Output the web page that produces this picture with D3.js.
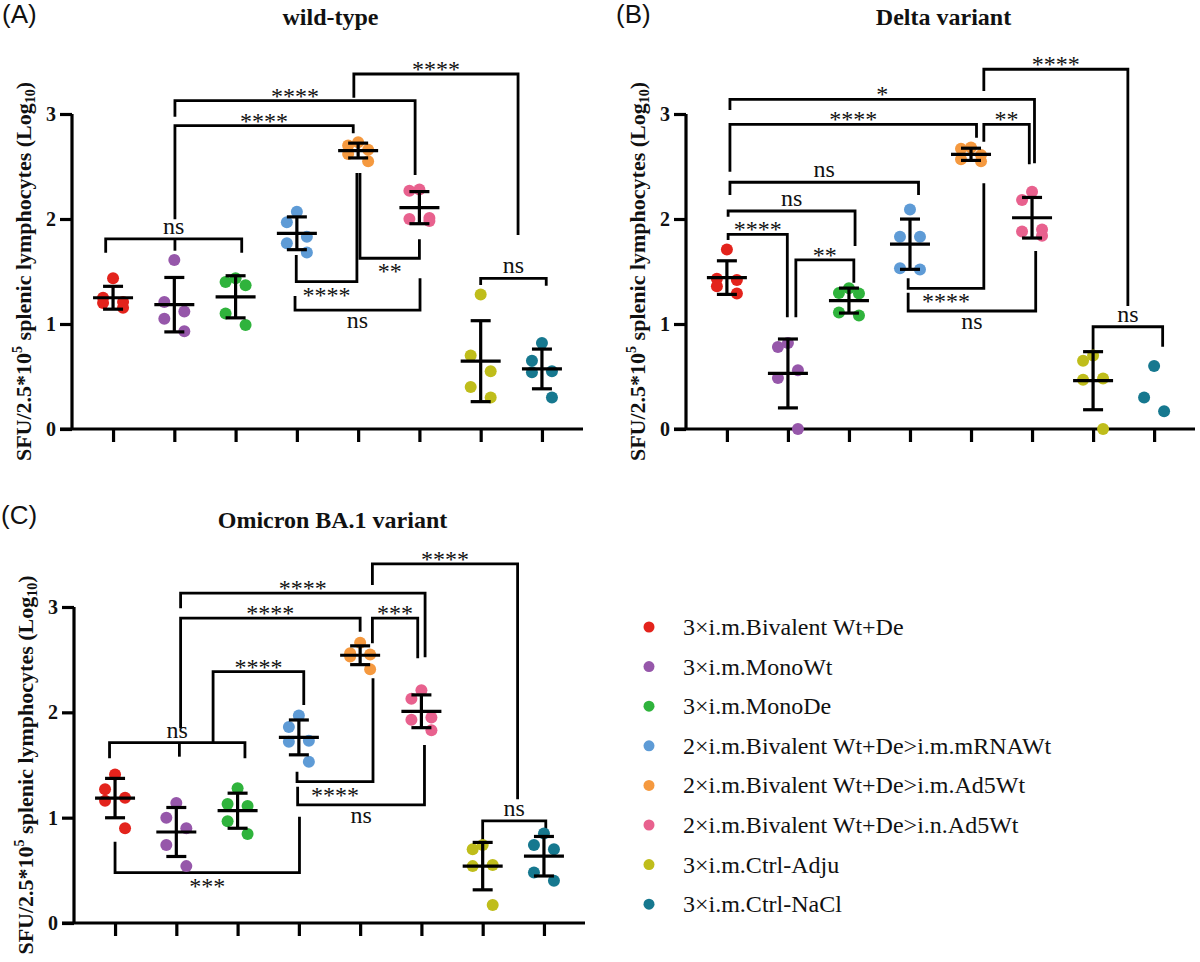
<!DOCTYPE html>
<html>
<head>
<meta charset="utf-8">
<script src="https://cdn.jsdelivr.net/npm/d3@7"></script>
<style>
  body { margin: 0; background: #fff; }
</style>
</head>
<body>
<div id="chart"></div>
<script>
// groups (legend order = x order)
const groups = [
  "3×i.m.Bivalent Wt+De",
  "3×i.m.MonoWt",
  "3×i.m.MonoDe",
  "2×i.m.Bivalent Wt+De>i.m.mRNAWt",
  "2×i.m.Bivalent Wt+De>i.m.Ad5Wt",
  "2×i.m.Bivalent Wt+De>i.n.Ad5Wt",
  "3×i.m.Ctrl-Adju",
  "3×i.m.Ctrl-NaCl"
];
const groupColors = ["#e3231c", "#9657aa", "#2fb33c", "#5e9bd6", "#f5993f", "#e8618e", "#bfbd1b", "#16788f"];

// log10 SFU per mouse
const wildType = [
  [1.435, 1.25, 1.21, 1.20, 1.155],
  [1.61, 1.21, 1.12, 1.05, 0.93],
  [1.435, 1.40, 1.37, 1.10, 0.99],
  [2.07, 1.97, 1.83, 1.77, 1.68],
  [2.73, 2.70, 2.66, 2.62, 2.55],
  [2.28, 2.27, 2.01, 2.00, 1.98],
  [1.28, 0.70, 0.55, 0.40, 0.30],
  [0.82, 0.65, 0.55, 0.54, 0.30]
];
const deltaVariant = [
  [1.71, 1.43, 1.42, 1.36, 1.29],
  [0.82, 0.78, 0.56, 0.485, 0.0],
  [1.34, 1.295, 1.29, 1.11, 1.08],
  [2.09, 1.83, 1.83, 1.53, 1.52],
  [2.68, 2.67, 2.61, 2.57, 2.55],
  [2.26, 2.18, 1.90, 1.88, 1.84],
  [0.70, 0.65, 0.48, 0.47, 0.0],
  [0.60, 0.30, 0.17]
];
const omicronVariant = [
  [1.41, 1.27, 1.19, 1.16, 0.90],
  [1.14, 1.00, 0.90, 0.74, 0.54],
  [1.28, 1.13, 1.11, 0.965, 0.845],
  [1.97, 1.86, 1.73, 1.72, 1.53],
  [2.66, 2.56, 2.55, 2.53, 2.41],
  [2.21, 2.13, 1.95, 1.93, 1.83],
  [0.74, 0.70, 0.55, 0.54, 0.17],
  [0.85, 0.74, 0.70, 0.48, 0.40]
];

const yTicks = [0, 1, 2, 3];

// significance brackets: [from group, to group, level, left end, right end, label, label side, stem group, stem end]
const wildTypeBrackets = [
  [3.93, 6.61, 3.381, 3.155, 1.848, "****", "above"],
  [1.01, 4.93, 3.127, 2.974, 2.419, "****", "above"],
  [1.01, 3.92, 2.889, 1.997, 2.816, "****", "above"],
  [-0.12, 2.10, 1.810, 1.679, 1.679, "ns", "above", 1.01, 1.698],
  [2.99, 3.98, 1.403, 1.657, 2.438, "****", "below"],
  [4.03, 5.00, 1.626, 2.438, 1.807, "**", "below"],
  [2.97, 5.01, 1.133, 1.267, 1.435, "ns", "below"],
  [6.00, 7.07, 1.435, 1.371, 1.365, "ns", "above"]
];
const deltaBrackets = [
  [4.21, 6.57, 3.426, 3.219, 1.171, "****", "above"],
  [0.05, 5.04, 3.140, 3.038, 2.530, "*", "above"],
  [0.05, 4.09, 2.902, 2.450, 2.774, "****", "above"],
  [4.21, 4.955, 2.902, 2.736, 2.521, "**", "above"],
  [0.05, 3.14, 2.350, 2.229, 2.229, "ns", "above"],
  [0.02, 2.10, 2.076, 2.022, 1.743, "ns", "above"],
  [0.02, 0.99, 1.854, 1.800, 1.064, "****", "above"],
  [1.13, 2.08, 1.610, 1.064, 1.393, "**", "above"],
  [2.97, 4.21, 1.340, 1.435, 2.340, "****", "below"],
  [2.97, 5.06, 1.124, 1.298, 1.695, "ns", "below"],
  [6.00, 7.14, 0.974, 0.736, 0.784, "ns", "above"]
];
const omicronBrackets = [
  [4.20, 6.57, 3.409, 3.210, 1.175, "****", "above"],
  [1.07, 5.06, 3.131, 2.989, 2.523, "****", "above"],
  [1.07, 4.00, 2.894, 1.849, 2.766, "****", "above"],
  [4.20, 4.94, 2.894, 2.656, 2.514, "***", "above"],
  [1.60, 3.08, 2.387, 1.712, 2.070, "****", "above"],
  [-0.09, 2.12, 1.712, 1.564, 1.564, "ns", "above", 1.05, 1.579],
  [2.97, 4.21, 1.342, 1.437, 2.324, "****", "below"],
  [2.98, 5.05, 1.121, 1.294, 1.690, "ns", "below"],
  [0.00, 3.01, 0.478, 0.772, 1.009, "***", "below"],
  [6.00, 7.03, 0.969, 0.757, 0.820, "ns", "above"]
];

const serif = "'Liberation Serif', 'Times New Roman', serif";
const sans = "'Liberation Sans', Arial, sans-serif";

const svg = d3.select("#chart").append("svg")
  .attr("width", 1200).attr("height", 962)
  .style("background", "#fff");

//panel layout
const panels = [
  {letter: "(A)", title: "wild-type", values: wildType, brackets: wildTypeBrackets,
   left: 72, right: 583, bottom: 429, top: 114, letterX: 2, letterY: 23, titleY: 25, noStats: []},
  {letter: "(B)", title: "Delta variant", values: deltaVariant, brackets: deltaBrackets,
   left: 686, right: 1195, bottom: 429, top: 114, letterX: 616, letterY: 23, titleY: 25, noStats: [7]},
  {letter: "(C)", title: "Omicron BA.1 variant", values: omicronVariant, brackets: omicronBrackets,
   left: 74, right: 585, bottom: 923, top: 607, letterX: 1, letterY: 524, titleY: 528, noStats: []}
];

const lw = 3.2;

panels.forEach(function(p){
  var g = svg.append("g");

  var x = d3.scalePoint().domain(d3.range(groups.length)).range([p.left, p.right]).padding(0.67);
  var xi = d3.scaleLinear().domain([0, groups.length - 1]).range([x(0), x(groups.length - 1)]);
  var y = d3.scaleLinear().domain([0, 3]).range([p.bottom, p.top]);

  // letter + title
  g.append("text").attr("x", p.letterX).attr("y", p.letterY)
    .attr("font-family", sans).attr("font-size", 26).attr("fill", "#111")
    .text(p.letter);
  g.append("text").attr("x", (p.left + p.right) / 2 + 3).attr("y", p.titleY)
    .attr("text-anchor", "middle").attr("font-family", serif).attr("font-weight", "bold")
    .attr("font-size", 24).attr("fill", "#111")
    .text(p.title);

  // axes
  var yAxis = d3.axisLeft(y).tickValues(yTicks).tickSize(12).tickPadding(4).tickFormat(d3.format("d"));
  var ya = g.append("g").attr("transform", "translate(" + p.left + ",0)").call(yAxis);
  ya.select(".domain").attr("stroke", "#000").attr("stroke-width", lw)
    .attr("d", "M0," + y(3) + "V" + y(0));
  ya.selectAll(".tick line").attr("stroke", "#000").attr("stroke-width", lw);
  ya.selectAll(".tick text").attr("font-family", serif).attr("font-weight", "bold")
    .attr("font-size", 20).attr("fill", "#111");

  var xAxis = d3.axisBottom(x).tickSize(13).tickFormat("");
  var xa = g.append("g").attr("transform", "translate(0," + p.bottom + ")").call(xAxis);
  xa.select(".domain").attr("stroke", "#000").attr("stroke-width", lw)
    .attr("d", "M" + (p.left - 12) + ",0H" + p.right);
  xa.selectAll(".tick line").attr("stroke", "#000").attr("stroke-width", lw);

  // y title
  var yt = g.append("text")
    .attr("transform", "translate(" + (p.left - 41) + "," + ((y(0) + y(3)) / 2) + ") rotate(-90)")
    .attr("text-anchor", "middle").attr("font-family", serif).attr("font-weight", "bold")
    .attr("font-size", 22).attr("fill", "#111");
  yt.append("tspan").text("SFU/2.5*10");
  yt.append("tspan").attr("font-size", 14).attr("dy", -9).text("5");
  yt.append("tspan").attr("dy", 9).text(" splenic lymphocytes (Log");
  yt.append("tspan").attr("font-size", 14).attr("dy", 4).text("10");
  yt.append("tspan").attr("dy", -4).text(")");

  // brackets
  var bg = g.append("g");
  p.brackets.forEach(function(b){
    var x1 = xi(b[0]), x2 = xi(b[1]), ly = y(b[2]);
    bg.append("path")
      .attr("d", "M" + x1 + "," + y(b[3]) + "V" + ly + "H" + x2 + "V" + y(b[4]))
      .attr("fill", "none").attr("stroke", "#000").attr("stroke-width", 2.8);
    if (b[7] !== undefined) {
      bg.append("path").attr("d", "M" + xi(b[7]) + "," + ly + "V" + y(b[8]))
        .attr("stroke", "#000").attr("stroke-width", 2.8);
    }
    var star = b[5].indexOf("*") >= 0;
    var ty = b[6] == "above" ? ly + (star ? 3 : -5) : ly + (star ? 21 : 18);
    bg.append("text").attr("x", (x1 + x2) / 2).attr("y", ty)
      .attr("text-anchor", "middle").attr("font-family", serif)
      .attr("font-size", 24).attr("fill", "#111")
      .text(b[5]);
  });

  // dots, spread left/right by rank
  p.values.forEach(function(vals, gi){
    var sorted = vals.slice().sort(function(a, b){ return b - a; });
    g.append("g").selectAll("circle")
      .data(sorted)
      .enter()
      .append("circle")
        .attr("cx", function(d, i){ return x(gi) + (i == 0 ? 0 : (i % 2 ? -10 : 10)); })
        .attr("cy", function(d){ return y(d); })
        .attr("r", 6)
        .attr("fill", groupColors[gi]);
  });

  // mean +- SD
  p.values.forEach(function(vals, gi){
    if (p.noStats.indexOf(gi) >= 0) return;
    var m = d3.mean(vals), sd = d3.deviation(vals);
    var cx = x(gi);
    var eg = g.append("g").attr("stroke", "#000").attr("stroke-width", lw);
    eg.append("line").attr("x1", cx - 20).attr("x2", cx + 20).attr("y1", y(m)).attr("y2", y(m));
    eg.append("line").attr("x1", cx).attr("x2", cx).attr("y1", y(m + sd)).attr("y2", y(m - sd));
    eg.append("line").attr("x1", cx - 10).attr("x2", cx + 10).attr("y1", y(m + sd)).attr("y2", y(m + sd));
    eg.append("line").attr("x1", cx - 10).attr("x2", cx + 10).attr("y1", y(m - sd)).attr("y2", y(m - sd));
  });
});

// legend
var legend = svg.append("g").selectAll("g")
  .data(groups)
  .enter()
  .append("g")
    .attr("transform", function(d, i){ return "translate(649," + (627 + i * 39.6) + ")"; });
legend.append("circle").attr("r", 5.5).attr("fill", function(d, i){ return groupColors[i]; });
legend.append("text").attr("x", 34).attr("y", 8)
  .attr("font-family", serif).attr("font-size", 24).attr("fill", "#111")
  .text(function(d){ return d; });
</script>
</body>
</html>
